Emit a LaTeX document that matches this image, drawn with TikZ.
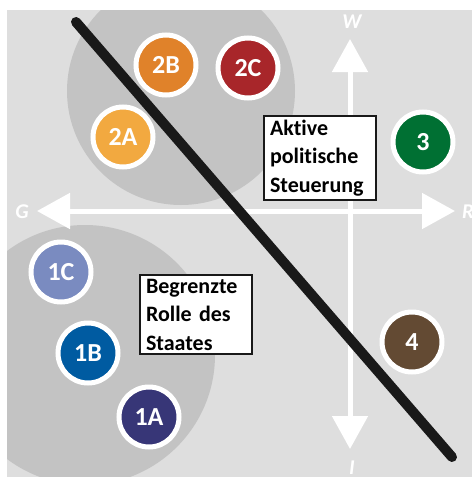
\documentclass[tikz,border=0pt]{standalone}
\usepackage{fontspec}
\setmainfont{Carlito}[Ligatures=NoCommon]
\usetikzlibrary{arrows.meta}

\definecolor{bgGrey}{HTML}{DEDEDE}
\definecolor{zoneGrey}{HTML}{C3C3C3}
\definecolor{col2A}{HTML}{F2A940}
\definecolor{col2B}{HTML}{E0822A}
\definecolor{col2C}{HTML}{A8262A}
\definecolor{col3}{HTML}{007033}
\definecolor{col4}{HTML}{634A33}
\definecolor{col1A}{HTML}{373677}
\definecolor{col1B}{HTML}{005BA1}
\definecolor{col1C}{HTML}{7A8BC0}

\begin{document}
\begin{tikzpicture}
            [x=1pt,y=-1pt,
             party/.style={circle,draw=white,line width=5pt,minimum size=60pt,inner sep=0pt,
                           text=white,font=\fontsize{26}{30}\selectfont\bfseries},
             infobox/.style={draw=black!90,line width=2.2pt,fill=white,align=left,text width=100pt,
                           inner xsep=6pt,inner ysep=4pt,font=\fontsize{22}{28.5}\selectfont\bfseries},
             axislabel/.style={text=white,inner sep=0pt,font=\fontsize{21}{24}\selectfont\bfseries\itshape},
             axis/.style={white,line width=5pt,
                           {Triangle[width=35pt,length=33pt]}-{Triangle[width=35pt,length=33pt]}}]
            \useasboundingbox (0,0) rectangle (472,477);
            \fill[bgGrey] (7,10) rectangle (472,477);
            
            % zones
            \begin{scope}
            \clip (7,10) rectangle (472,477);
            \fill[zoneGrey] (181,91) circle (114);
            \fill[zoneGrey] (85,355) circle (130);
            \end{scope}
            
            % axes
            \coordinate (W) at (350,39);
            \coordinate (I) at (350,449);
            \coordinate (G) at (37,211);
            \coordinate (R) at (455,211);
            \draw[axis] (I) -- (W);
            \draw[axis] (G) -- (R);
            \node[axislabel] (Wlab) at (352,22) {W};
            \node[axislabel] (Glab) at (22,212) {G};
            \node[axislabel,anchor=west] (Rlab) at (462,212) {R};
            \node[axislabel,anchor=north] (Ilab) at (352,461) {I};
            
            % parties
            \node[party,fill=col2A] (P2A) at (123,137) {2A};
            \node[party,fill=col2B] (P2B) at (166,65) {2B};
            \node[party,fill=col2C] (P2C) at (248,68) {2C};
            \node[party,fill=col3] (P3) at (423,142) {3};
            \node[party,fill=col4] (P4) at (412,342) {4};
            \node[party,fill=col1A] (P1A) at (149,417) {1A};
            \node[party,fill=col1B] (P1B) at (88,353) {1B};
            \node[party,fill=col1C] (P1C) at (61,272) {1C};
            
            % boxes
            \node[infobox] (aktiv) at (320,158) {Aktive\\politische\\Steuerung};
            \node[infobox] (begrenzt) at (196,314.5) {Begrenzte\\Rolle des\\Staates};
            
            % divide
            \coordinate (D1) at (76,22);
            \coordinate (D2) at (452,457);
            \draw[line width=10pt,line cap=round,black!90] (D1) -- (D2);
        \end{tikzpicture}
\end{document}
